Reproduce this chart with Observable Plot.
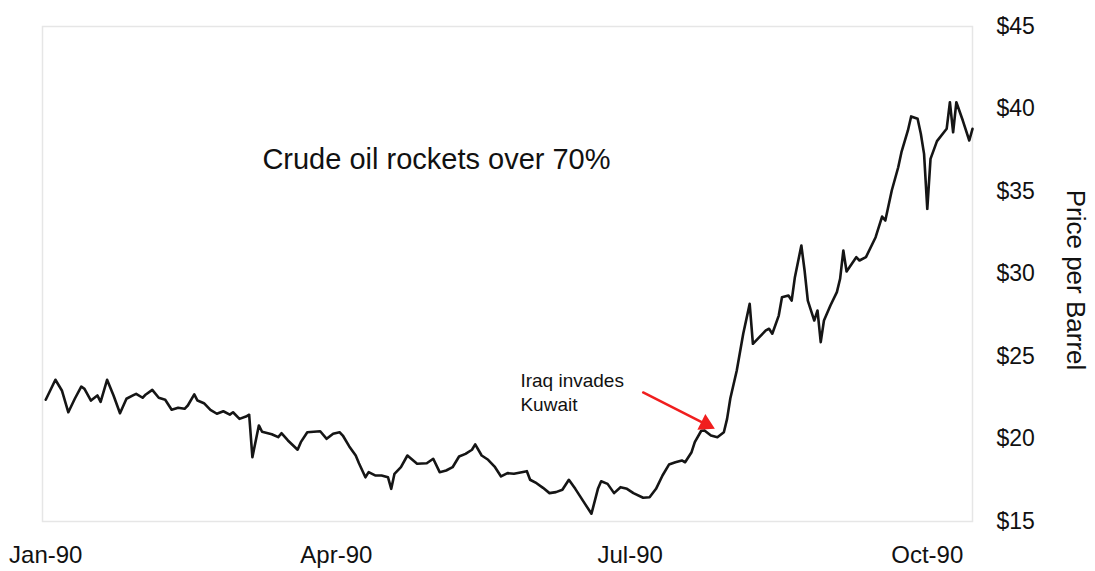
<!DOCTYPE html>
<html><head><meta charset="utf-8">
<script src="https://cdn.jsdelivr.net/npm/d3@7"></script>
<script src="https://cdn.jsdelivr.net/npm/@observablehq/plot@0.6"></script>
<style>
body{margin:0;background:#fff;}
#chart svg{font-family:"Liberation Sans",Arial,sans-serif;}
</style></head><body><div id="chart"></div>
<script>
const dates = [
"1990-01-01","1990-01-04","1990-01-06","1990-01-08","1990-01-10","1990-01-12","1990-01-13","1990-01-15","1990-01-17","1990-01-18",
"1990-01-20","1990-01-22","1990-01-24","1990-01-26","1990-01-28","1990-01-29","1990-01-31","1990-02-01","1990-02-03","1990-02-05",
"1990-02-07","1990-02-09","1990-02-11","1990-02-13","1990-02-14","1990-02-16","1990-02-17","1990-02-19","1990-02-21","1990-02-23",
"1990-02-25","1990-02-27","1990-02-28","1990-03-02","1990-03-04","1990-03-05","1990-03-06","1990-03-08","1990-03-09","1990-03-12",
"1990-03-14","1990-03-15","1990-03-17","1990-03-20","1990-03-21","1990-03-23","1990-03-27","1990-03-29","1990-03-31","1990-04-02",
"1990-04-03","1990-04-05","1990-04-07","1990-04-08","1990-04-10","1990-04-11","1990-04-13","1990-04-15","1990-04-17","1990-04-18",
"1990-04-19","1990-04-21","1990-04-23","1990-04-26","1990-04-29","1990-05-01","1990-05-03","1990-05-05","1990-05-07","1990-05-09",
"1990-05-11","1990-05-13","1990-05-14","1990-05-16","1990-05-18","1990-05-20","1990-05-22","1990-05-24","1990-05-26","1990-05-30",
"1990-05-31","1990-06-02","1990-06-04","1990-06-06","1990-06-08","1990-06-10","1990-06-12","1990-06-14","1990-06-17","1990-06-19",
"1990-06-21","1990-06-22","1990-06-24","1990-06-26","1990-06-28","1990-06-30","1990-07-02","1990-07-05","1990-07-07","1990-07-09",
"1990-07-11","1990-07-13","1990-07-15","1990-07-17","1990-07-18","1990-07-20","1990-07-21","1990-07-23","1990-07-24","1990-07-26",
"1990-07-28","1990-07-30","1990-07-31","1990-08-01","1990-08-03","1990-08-05","1990-08-07","1990-08-08","1990-08-10","1990-08-12",
"1990-08-13","1990-08-14","1990-08-16","1990-08-17","1990-08-19","1990-08-20","1990-08-21","1990-08-23","1990-08-24","1990-08-25",
"1990-08-27","1990-08-28","1990-08-29","1990-08-30","1990-09-01","1990-09-03","1990-09-04","1990-09-05","1990-09-06","1990-09-09",
"1990-09-10","1990-09-12","1990-09-15","1990-09-17","1990-09-18","1990-09-20","1990-09-22","1990-09-23","1990-09-25","1990-09-26",
"1990-09-28","1990-09-29","1990-09-30","1990-10-01","1990-10-02","1990-10-04","1990-10-07","1990-10-08","1990-10-09","1990-10-10",
"1990-10-12","1990-10-14","1990-10-15"
];
const prices = [
22.38,23.59,22.94,21.62,22.44,23.18,23.04,22.33,22.64,22.25,
23.59,22.64,21.56,22.44,22.64,22.74,22.50,22.70,22.98,22.50,
22.38,21.77,21.89,21.83,22.03,22.70,22.33,22.17,21.77,21.53,
21.68,21.48,21.62,21.22,21.36,21.47,18.90,20.82,20.44,20.29,
20.11,20.35,19.91,19.35,19.81,20.41,20.47,20.01,20.32,20.41,
20.21,19.55,19.00,18.53,17.68,17.99,17.79,17.79,17.68,16.98,
17.89,18.29,19.00,18.50,18.53,18.80,17.99,18.09,18.29,18.94,
19.10,19.35,19.67,19.00,18.74,18.33,17.73,17.93,17.89,18.05,
17.53,17.32,17.04,16.72,16.78,16.92,17.53,16.98,16.07,15.47,
16.98,17.44,17.28,16.72,17.08,16.98,16.72,16.44,16.47,16.98,
17.79,18.45,18.59,18.70,18.59,19.20,19.81,20.50,20.52,20.21,
20.11,20.41,21.22,22.45,24.15,26.38,28.19,25.77,26.17,26.58,
26.68,26.38,27.48,28.59,28.70,28.39,29.81,31.73,30.21,28.39,
27.18,27.79,25.87,27.18,28.09,28.90,29.71,31.42,30.15,31.02,
30.82,31.02,32.23,33.48,33.24,35.06,36.47,37.38,38.70,39.55,
39.41,38.50,37.28,33.95,36.98,38.05,38.80,40.41,38.59,40.41,
39.30,38.09,38.80
];
const xDomain = ["1989-12-31","1990-10-15"];
const yDomain = [15, 45];
const xTicks = ["1990-01-01","1990-04-01","1990-07-01","1990-10-01"];
const yTicks = [15, 20, 25, 30, 35, 40, 45];
const yLabel = "Price per Barrel";
const headline = "Crude oil rockets over 70%";
const headlineDate = "1990-05-02";
const headlinePrice = 36.9;
const eventLabel = "Iraq invades\nKuwait";
const eventLabelDate = "1990-05-28";
const eventLabelPrice = 22.9;
const arrowFromDate = "1990-07-05";
const arrowFromPrice = 22.82;
const arrowToDate = "1990-07-27";
const arrowToPrice = 20.64;

const parse = s => new Date(s + "T00:00:00Z");
const data = dates.map((d, i) => ({date: parse(d), price: prices[i]}));
const red = "#f01e1e";

const chart = Plot.plot({
  width: 1095, height: 571,
  marginLeft: 42, marginRight: 123, marginTop: 26, marginBottom: 50,
  style: {fontFamily: '"Liberation Sans", Arial, sans-serif', background: "#fff", color: "#111", overflow: "visible"},
  x: {type: "utc", domain: xDomain.map(parse)},
  y: {domain: yDomain},
  marks: [
    Plot.frame({stroke: "#e6e6e6", strokeWidth: 1.5}),
    Plot.axisX({ticks: xTicks.map(parse), tickFormat: d3.utcFormat("%b-%y"), tickSize: 0, tickPadding: 24, fontSize: 24, label: null, fill: "#111"}),
    Plot.axisY({anchor: "right", ticks: yTicks, tickFormat: d => "$" + d, tickSize: 0, tickPadding: 24, fontSize: 23, label: null, fill: "#111"}),
    Plot.text([yLabel], {text: d => d, frameAnchor: "right", textAnchor: "middle", dx: 103, dy: 6, rotate: 90, fontSize: 26, fill: "#111"}),
    Plot.line(data, {x: "date", y: "price", stroke: "#151515", strokeWidth: 2.6, strokeLinejoin: "round"}),
    Plot.text([headline], {text: d => d, x: () => parse(headlineDate), y: () => headlinePrice, fontSize: 29, fill: "#111"}),
    Plot.text([eventLabel], {text: d => d, x: () => parse(eventLabelDate), y: () => eventLabelPrice, textAnchor: "start", fontSize: 19, lineHeight: 1.3, fill: "#111"}),
    Plot.arrow([0], {x1: () => parse(arrowFromDate), y1: () => arrowFromPrice, x2: () => parse(arrowToDate), y2: () => arrowToPrice, stroke: red, strokeWidth: 2.5, headLength: 0, insetEnd: 9}),
    Plot.dot([0], {x: () => parse(arrowToDate), y: () => arrowToPrice, symbol: "triangle", r: 6.5, fill: red, stroke: "none", rotate: 117, dx: -8.3, dy: -4.3})
  ]
});
document.getElementById("chart").appendChild(chart);
</script></body></html>
